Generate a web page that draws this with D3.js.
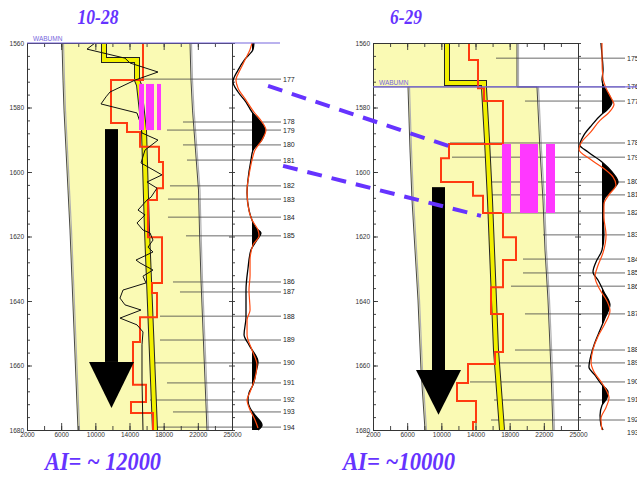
<!DOCTYPE html>
<html>
<head>
<meta charset="utf-8">
<script src="https://cdn.jsdelivr.net/npm/d3@7"></script>
<style>
body{margin:0;background:#fff}
svg{display:block}
</style>
</head>
<body>
<svg id="chart" width="637" height="478" font-family="Liberation Sans, Arial, sans-serif"></svg>
<script>
// axis ticks
var depthTicks = [1560,1580,1600,1620,1640,1660,1680];
var aiTicks = [2000,6000,10000,14000,18000,22000,26000];
var aiTickLabels = ["2000","6000","10000","14000","18000","22000","25000"];

// ---- well 10-28 ----
var bandDepthL = [1560,1571.5,1580.8,1593.2,1605.6,1618,1633.5,1649,1664.5,1680];
var bandLoL = [6097,6215,6332,6566,6800,7034,7268,7502,7736,7971];
var bandHiL = [21083,21200,21376,21727,22078,22195,22370,22604,22838,23073];
var trendDepthL = [1560,1565.3,1565.3,1571.5,1573,1587,1618,1649,1680];
var trendValL = [11014,11014,14878,14878,15112,15697,16048,16517,16985];
var redDepthL = [1560,1571.5,1584.8,1587.6,1592.2,1596.9,1605,1608.7,1620.2,1634.4,1637.5,1645,1652.7,1666,1671.3,1674.7];
var redValL = [15580,11834,13707,15229,17453,17921,17219,16165,17804,16634,17219,15229,14409,15931,14175,16751];
var logDepthL = [1560,1561.9,1564.7,1566.2,1569,1571.5,1575.2,1576.7,1578.9,1581.7,1584.5,1587.9,1590.1,1593.2,1597.2,1600.9,1603.1,1605,1607.8,1608.7,1611.8,1613.3,1615.8,1618,1618.9,1621.1,1623.3,1624.8,1627.3,1628.2,1630.4,1632.3,1634.4,1636.6,1639.1,1641.2,1642.8,1645.3,1647.4,1649.6,1653.6,1664.5,1680];
var logValL = [9961,9024,13473,14058,17336,14644,11717,11249,10663,14878,15229,15463,17336,15814,15346,17804,16048,17219,16517,16048,14995,15814,14878,15580,16400,16751,16165,16751,14761,15229,16751,15580,15931,13239,12887,13473,15346,12887,14878,15580,15463,15463,15580];
var markDepthL = [1571.2,1584.5,1587,1591.6,1596.3,1604.3,1608.4,1614,1619.8,1634.1,1637.2,1644.7,1652.1,1659.2,1665.4,1670.7,1674.4,1679.1];
var markStartL = [15229,20263,18390,20263,20731,18741,18507,18507,20614,19092,19912,17570,17570,16985,18390,16400,19092,16985];
var markLabelL = ["177","178","179","180","181","182","183","184","185","186","187","188","189","190","191","192","193","194"];
var synDepthL = [1560,1562,1565,1568.4,1572,1575.2,1578.3,1581.4,1583.9,1587,1590,1593.2,1596.3,1602.5,1606.5,1611.8,1614.9,1617.4,1618.9,1621.1,1624.2,1630,1636.6,1645,1650.5,1653.6,1658.9,1662,1666,1668.5,1670.7,1673.2,1675.4,1678.5,1680];
var synAmpL = [0.13,0.07,-0.47,-0.93,-1.27,-0.93,-0.4,0,0.47,0.87,0.67,0.07,-0.07,-0.27,-0.33,-0.2,0,0.27,0.6,0.33,-0.07,-0.27,-0.4,-0.4,-0.53,-0.2,0.4,0.27,0.07,-0.2,-0.27,-0.13,0.2,0.67,0.4];
var seisDepthL = [1560,1562,1565.3,1568.4,1571.5,1574,1577.7,1581.4,1584.5,1587,1590,1593.2,1596.3,1601,1605.6,1610.2,1614.9,1618,1619.8,1622.6,1627.3,1632,1636.6,1642.8,1645.9,1650.5,1655.2,1659.8,1663.9,1668.2,1670.7,1673.8,1676.9,1679.4];
var seisAmpL = [0,-0.13,-0.47,-0.8,-1.07,-0.93,-0.4,0.13,0.67,0.93,0.67,0.2,0,-0.2,-0.33,-0.27,0,0.4,0.47,0.07,-0.13,-0.13,-0.2,-0.13,-0.33,-0.33,0,0.33,0.2,-0.13,-0.33,-0.13,0.2,0.4];
var barLoL = [15112,15931,17219];
var barHiL = [15697,16868,17687];
var barDepthL = [1572.7,1587.0];

// ---- well 6-29 ----
var bandDepthR = [1560,1573.6,1573.6,1593.2,1608.7,1624.2,1639.7,1661.4,1680];
var bandLoR = [2000,2000,6097,6332,6566,6917,7268,7619,8088];
var bandHiR = [18858,18858,21199,21551,21902,22136,22487,22838,23073];
var trendDepthR = [1560,1572.4,1572.4,1574,1590.1,1608.7,1639.7,1655.2,1680];
var trendValR = [10663,10663,14995,14995,15346,15697,16165,16400,17102];
var redDepthR = [1560,1565.3,1574,1578,1591.3,1595.7,1603.1,1607.4,1612.7,1620.2,1627.3,1635.7,1644,1655.8,1659.5,1665.4,1671,1677.5];
var redValR = [13239,14292,14995,17219,10897,9961,13707,14878,17219,18741,17219,15814,17219,16283,13122,11834,14058,13707];
var markDepthR = [1564.7,1573.6,1578,1591,1595.4,1603.1,1607.1,1612.7,1619.5,1627,1631.3,1635.4,1644,1655.2,1659.2,1665.1,1670.7,1676.9,1680.8];
var markStartR = [16400,2000,19795,11014,11249,15931,15931,14878,21902,19561,19561,18156,19795,18624,16283,13356,16166,15814,null];
var markLabelR = ["175","176","177","178","179","180","181","182","183","184","185","186","187","188","189","190","191","192","193"];
var synDepthR = [1560,1563.7,1568.4,1571.5,1573.6,1576.1,1578.3,1580.8,1582.3,1585.4,1588.5,1591.6,1593.8,1596.9,1600,1603.1,1605.6,1608.7,1613.3,1619.5,1624.2,1627.9,1631,1633.5,1637.2,1641.2,1645.3,1649,1653.6,1656.7,1660.5,1663,1666,1668.2,1670.1,1672.3,1675.4,1678.5,1680];
var synAmpR = [-0.07,0,0.07,0,0.13,0.47,0.67,0.33,-0.07,-0.67,-1.2,-1.47,-0.93,0,0.67,1.07,0.67,0.13,0.07,0.13,0,-0.4,-0.6,-0.27,0.13,0.53,0.2,-0.13,-0.53,-0.73,-0.87,-0.47,0,0.4,0.33,0,-0.13,-0.07,0.07];
var seisDepthR = [1560,1565,1571,1574,1577,1579,1581.5,1584,1587.5,1591,1593,1596,1598.5,1601.5,1604,1607,1610,1614,1619.5,1625,1629,1632.5,1636,1640,1643,1647,1651,1655,1659,1662,1665,1667.5,1670,1673,1676.5,1680];
var seisAmpR = [0,0,0.07,0.27,0.6,0.8,0.47,-0.13,-0.73,-1.4,-1.53,-0.8,0,0.73,0.93,0.47,0.13,0.13,0.27,0.07,-0.27,-0.47,-0.2,0.33,0.53,0.2,-0.27,-0.6,-0.73,-0.53,-0.07,0.27,0.47,0.27,-0.07,0];
var barLoR = [17102,19209,22253];
var barHiR = [18156,21317,23307];
var barDepthR = [1591.3,1612.7];

var purple = "#6633ff";
var svg = d3.select("#chart");
var y = d3.scaleLinear().domain([1560,1680]).range([43,430]);

function drawWell(p) {
  var x = d3.scaleLinear().domain([2000,26000]).range([p.left, p.left+205]);
  var w = d3.scaleLinear().domain([-1,1]).range([p.wigBase-15, p.wigBase+15]);
  var g = svg.append("g");
  var right = x(26000);

  // pale yellow band
  var band = p.bandDepth.map(function(d,i){ return {d:d, lo:p.bandLo[i], hi:p.bandHi[i]}; });
  g.append("path").datum(band)
    .attr("d", d3.area().y(function(d){return y(d.d);}).x0(function(d){return x(d.lo);}).x1(function(d){return x(d.hi);}))
    .attr("fill","#fafab4");
  var edgeHi = d3.line().y(function(d){return y(d.d);}).x(function(d){return x(d.hi);});
  var edgeLo = d3.line().y(function(d){return y(d.d);}).x(function(d){return x(d.lo);});
  g.append("path").datum(band).attr("d",edgeHi).attr("transform","translate(1.5,0)")
    .attr("fill","none").attr("stroke","#b0b0b0").attr("stroke-width",1.2);
  g.append("path").datum(band).attr("d",edgeHi).attr("fill","none").attr("stroke","#333").attr("stroke-width",0.9);
  g.append("path").datum(band.filter(function(d){return d.lo>2000;})).attr("d",edgeLo).attr("transform","translate(1.5,0)")
    .attr("fill","none").attr("stroke","#b0b0b0").attr("stroke-width",1.2);
  g.append("path").datum(band.filter(function(d){return d.lo>2000;})).attr("d",edgeLo)
    .attr("fill","none").attr("stroke","#333").attr("stroke-width",0.9);

  // marker lines + labels
  p.markDepth.forEach(function(d,i){
    if (p.markStart[i] !== null) {
      g.append("line").attr("x1",x(p.markStart[i])).attr("x2",p.labelX-2)
        .attr("y1",y(d)).attr("y2",y(d)).attr("stroke","#444").attr("stroke-width",0.8);
    }
    g.append("text").attr("x",p.labelX).attr("y",y(d)).attr("dy","0.35em")
      .attr("font-size",7).attr("fill","#222").text(p.markLabel[i]);
  });

  // yellow trend line
  var trend = p.trendDepth.map(function(d,i){return [x(p.trendVal[i]), y(d)];});
  g.append("path").datum(trend).attr("d",d3.line()).attr("fill","none").attr("stroke","#222").attr("stroke-width",6);
  g.append("path").datum(trend).attr("d",d3.line()).attr("fill","none").attr("stroke","#f2f000").attr("stroke-width",4);

  // blocked AI (red steps)
  var red = p.redDepth.map(function(d,i){return [x(p.redVal[i]), y(d)];});
  red.push([x(p.redVal[p.redVal.length-1]), y(1680)]);
  g.append("path").datum(red).attr("d",d3.line().curve(d3.curveStepBefore))
    .attr("fill","none").attr("stroke","#ff3a10").attr("stroke-width",2);

  // AI log
  if (p.logDepth) {
    var lg = p.logDepth.map(function(d,i){return [x(p.logVal[i]), y(d)];});
    g.append("path").datum(lg).attr("d",d3.line()).attr("fill","none").attr("stroke","#111").attr("stroke-width",1);
  }

  // magenta bars
  p.barLo.forEach(function(v,i){
    g.append("rect").attr("x",x(v)).attr("width",x(p.barHi[i])-x(v))
      .attr("y",y(p.barDepth[0])).attr("height",y(p.barDepth[1])-y(p.barDepth[0]))
      .attr("fill","#ff38ff");
  });

  // arrow
  var ax = x(p.arrow.val);
  g.append("rect").attr("x",ax-6.5).attr("width",13).attr("y",y(p.arrow.top))
    .attr("height",y(p.arrow.base)-y(p.arrow.top)).attr("fill","#000");
  g.append("path").attr("d","M"+(ax-22.5)+","+y(p.arrow.base)+"L"+(ax+22.5)+","+y(p.arrow.base)+"L"+ax+","+y(p.arrow.tip)+"Z")
    .attr("fill","#000");

  // axes
  var fmt = function(v){ return aiTickLabels[aiTicks.indexOf(v)]; };
  g.append("g").attr("transform","translate(0,430)")
    .call(d3.axisBottom(x).tickValues(d3.range(2000,26001,2000)).tickSizeInner(-4).tickSizeOuter(0).tickFormat(""));
  g.append("g").attr("transform","translate(0,430)")
    .call(d3.axisBottom(x).tickValues(aiTicks).tickSizeInner(-7).tickSizeOuter(0).tickPadding(2).tickFormat(fmt));
  g.append("g").attr("transform","translate(0,43)")
    .call(d3.axisTop(x).tickValues(d3.range(2000,26001,2000)).tickSizeInner(-4).tickSizeOuter(0).tickFormat(""));
  g.append("g").attr("transform","translate(0,43)")
    .call(d3.axisTop(x).tickValues(aiTicks).tickSizeInner(-7).tickSizeOuter(0).tickFormat(""));
  g.append("g").attr("transform","translate("+p.left+",0)")
    .call(d3.axisLeft(y).tickValues(d3.range(1560,1681,4)).tickSizeInner(-3).tickSizeOuter(0).tickFormat(""));
  g.append("g").attr("transform","translate("+p.left+",0)")
    .call(d3.axisLeft(y).tickValues(depthTicks).tickSizeInner(-5).tickSizeOuter(0).tickPadding(3).tickFormat(d3.format("d")));
  g.append("g").attr("transform","translate("+right+",0)")
    .call(d3.axisRight(y).tickValues(d3.range(1560,1681,4)).tickSizeInner(3).tickSizeOuter(0).tickFormat(""));
  g.append("g").attr("transform","translate("+right+",0)")
    .call(d3.axisLeft(y).tickValues(depthTicks).tickSizeInner(3).tickSizeOuter(0).tickFormat(""));
  g.selectAll(".tick text").attr("font-size",6.5).attr("fill","#333").attr("font-family","Liberation Sans, Arial, sans-serif");
  g.selectAll(".domain, .tick line").attr("stroke","#333").attr("stroke-width",0.9);

  // synthetic (black, filled) and seismic (orange) traces
  var clipId = "clip" + p.left;
  svg.append("clipPath").attr("id",clipId).append("rect")
    .attr("x",p.wigBase).attr("y",43).attr("width",40).attr("height",387);
  var syn = p.synDepth.map(function(d,i){return {d:d, a:p.synAmp[i]};});
  g.append("path").datum(syn).attr("clip-path","url(#"+clipId+")")
    .attr("d",d3.area().curve(d3.curveMonotoneY).y(function(d){return y(d.d);}).x0(p.wigBase).x1(function(d){return w(d.a);}))
    .attr("fill","#000");
  g.append("path").datum(syn)
    .attr("d",d3.line().curve(d3.curveMonotoneY).y(function(d){return y(d.d);}).x(function(d){return w(d.a);}))
    .attr("fill","none").attr("stroke","#000").attr("stroke-width",1.3);
  var seis = p.seisDepth.map(function(d,i){return {d:d, a:p.seisAmp[i]};});
  g.append("path").datum(seis)
    .attr("d",d3.line().curve(d3.curveMonotoneY).y(function(d){return y(d.d);}).x(function(d){return w(d.a);}))
    .attr("fill","none").attr("stroke","#ff4a10").attr("stroke-width",1.2);

  // WABUMN top
  g.append("line").attr("x1",p.left).attr("x2",p.wabEnd).attr("y1",y(p.wabumn)).attr("y2",y(p.wabumn))
    .attr("stroke","#7766dd").attr("stroke-width",1.2);
  g.append("text").attr("x",p.left+6).attr("y",y(p.wabumn)-2).attr("font-size",6.5)
    .attr("fill","#7766dd").text("WABUMN");

  return {x:x, w:w};
}

var L = drawWell({left:27, wigBase:252, labelX:283, wabEnd:280, wabumn:1560,
  bandDepth:bandDepthL, bandLo:bandLoL, bandHi:bandHiL,
  trendDepth:trendDepthL, trendVal:trendValL, redDepth:redDepthL, redVal:redValL,
  logDepth:logDepthL, logVal:logValL,
  markDepth:markDepthL, markStart:markStartL, markLabel:markLabelL,
  synDepth:synDepthL, synAmp:synAmpL, seisDepth:seisDepthL, seisAmp:seisAmpL,
  barLo:barLoL, barHi:barHiL, barDepth:barDepthL,
  arrow:{val:11892, top:1586.7, base:1658.9, tip:1673.2}});

var R = drawWell({left:373, wigBase:602, labelX:627, wabEnd:637, wabumn:1573.6,
  bandDepth:bandDepthR, bandLo:bandLoR, bandHi:bandHiR,
  trendDepth:trendDepthR, trendVal:trendValR, redDepth:redDepthR, redVal:redValR,
  logDepth:null,
  markDepth:markDepthR, markStart:markStartR, markLabel:markLabelR,
  synDepth:synDepthR, synAmp:synAmpR, seisDepth:seisDepthR, seisAmp:seisAmpR,
  barLo:barLoR, barHi:barHiR, barDepth:barDepthR,
  arrow:{val:9668, top:1604.7, base:1661.4, tip:1675.3}});

// correlation connectors between the wells
var connFrom = [[1.07,1573.3],[2.07,1598.1]];
var connTo = [[11131,1592.2],[14644,1613.6]];
connFrom.forEach(function(f,i){
  svg.append("line").attr("x1",L.w(f[0])).attr("y1",y(f[1]))
    .attr("x2",R.x(connTo[i][0])).attr("y2",y(connTo[i][1]))
    .attr("stroke",purple).attr("stroke-width",4).attr("stroke-dasharray","15,10");
});

// titles
var serif = "'Liberation Serif', 'Times New Roman', serif";
[["10-28",98,24,21,41],["6-29",406,24,21,32],["AI= ~ 12000",103,470,26,116],["AI= ~10000",399,470,26,112]].forEach(function(t){
  svg.append("text").attr("x",t[1]).attr("y",t[2]).attr("text-anchor","middle")
    .attr("textLength",t[4]).attr("lengthAdjust","spacingAndGlyphs")
    .style("font-family",serif).style("font-weight","bold").style("font-style","italic")
    .style("font-size",t[3]+"px").attr("fill",purple).text(t[0]);
});
</script>
</body>
</html>
